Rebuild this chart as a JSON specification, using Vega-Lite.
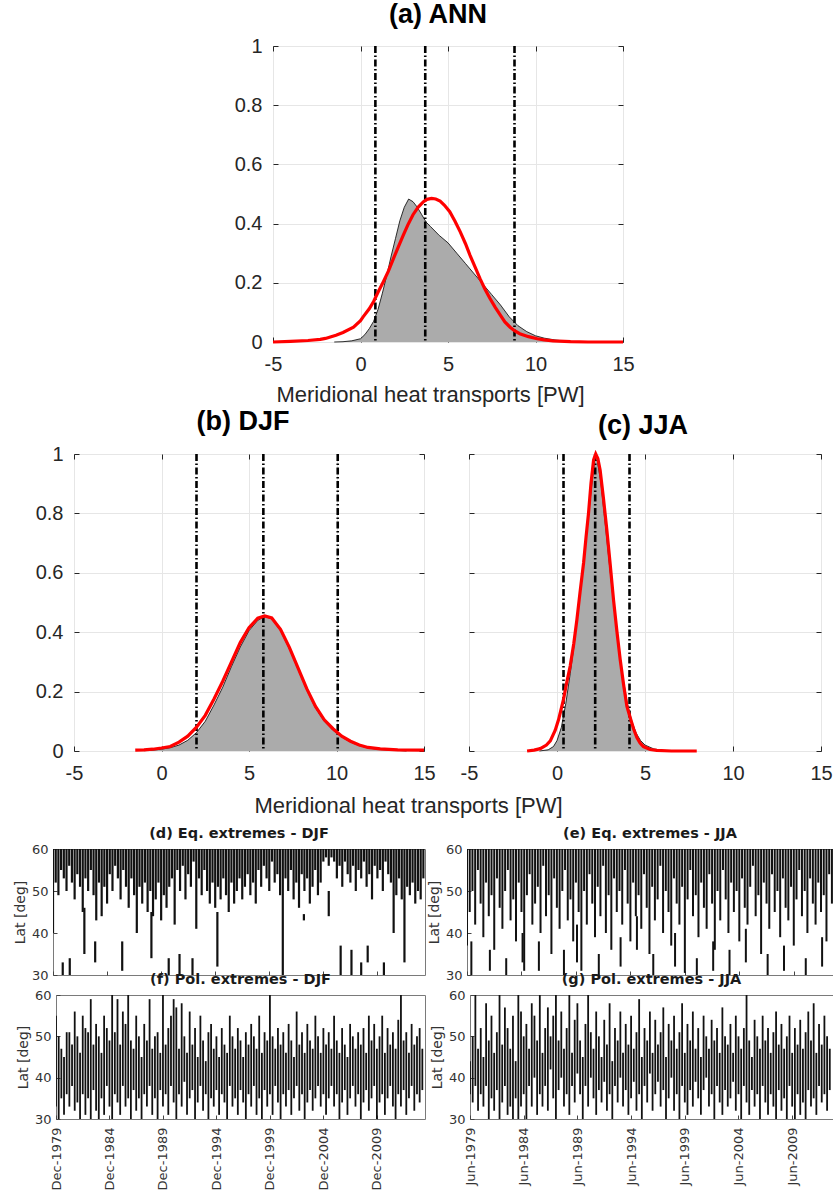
{
"$schema": "https://vega.github.io/schema/vega-lite/v6.json",
"background": "white",
"padding": 0,
"config": {"view": {"stroke": null}, "font": "Liberation Sans"},
"datasets": {
"ag": [{"x":-1.5,"y":0},{"x":-1,"y":0.001},{"x":-0.5,"y":0.004},{"x":0,"y":0.011},{"x":0.25,"y":0.025},{"x":0.5,"y":0.045},{"x":0.75,"y":0.07},{"x":1,"y":0.11},{"x":1.25,"y":0.165},{"x":1.5,"y":0.225},{"x":1.75,"y":0.29},{"x":2,"y":0.35},{"x":2.25,"y":0.41},{"x":2.5,"y":0.455},{"x":2.75,"y":0.483},{"x":3,"y":0.474},{"x":3.25,"y":0.455},{"x":3.5,"y":0.43},{"x":3.75,"y":0.405},{"x":4,"y":0.39},{"x":4.5,"y":0.36},{"x":5,"y":0.335},{"x":5.5,"y":0.3},{"x":6,"y":0.265},{"x":6.5,"y":0.23},{"x":7,"y":0.195},{"x":7.5,"y":0.16},{"x":8,"y":0.125},{"x":8.5,"y":0.085},{"x":9,"y":0.055},{"x":9.5,"y":0.035},{"x":10,"y":0.021},{"x":10.5,"y":0.013},{"x":11,"y":0.008},{"x":11.5,"y":0.004},{"x":12,"y":0.002},{"x":13,"y":0}],
"ar": [{"x":-5,"y":0},{"x":-4,"y":0.002},{"x":-3,"y":0.005},{"x":-2.3,"y":0.009},{"x":-2,"y":0.012},{"x":-1.4,"y":0.023},{"x":-1,"y":0.032},{"x":-0.4,"y":0.05},{"x":0,"y":0.072},{"x":0.15,"y":0.085},{"x":0.5,"y":0.112},{"x":0.75,"y":0.137},{"x":1,"y":0.168},{"x":1.3,"y":0.203},{"x":1.6,"y":0.24},{"x":1.87,"y":0.28},{"x":2.15,"y":0.32},{"x":2.44,"y":0.36},{"x":2.7,"y":0.395},{"x":3,"y":0.43},{"x":3.3,"y":0.456},{"x":3.6,"y":0.474},{"x":3.8,"y":0.482},{"x":4.06,"y":0.485},{"x":4.3,"y":0.483},{"x":4.55,"y":0.476},{"x":4.8,"y":0.462},{"x":5.1,"y":0.44},{"x":5.4,"y":0.408},{"x":5.7,"y":0.372},{"x":6,"y":0.332},{"x":6.26,"y":0.293},{"x":6.55,"y":0.253},{"x":6.83,"y":0.214},{"x":7.1,"y":0.18},{"x":7.4,"y":0.147},{"x":7.7,"y":0.117},{"x":8,"y":0.09},{"x":8.25,"y":0.068},{"x":8.55,"y":0.05},{"x":8.8,"y":0.038},{"x":9.1,"y":0.028},{"x":9.6,"y":0.018},{"x":10.1,"y":0.011},{"x":10.5,"y":0.007},{"x":11,"y":0.004},{"x":12,"y":0.001},{"x":13,"y":0},{"x":15,"y":0}],
"al": [{"x":0.85},{"x":3.7},{"x":8.8}],
"bg": [{"x":-1,"y":0.001},{"x":-0.5,"y":0.003},{"x":0,"y":0.006},{"x":0.5,"y":0.011},{"x":1,"y":0.02},{"x":1.5,"y":0.036},{"x":2,"y":0.062},{"x":2.5,"y":0.1},{"x":3,"y":0.155},{"x":3.5,"y":0.215},{"x":4,"y":0.285},{"x":4.5,"y":0.35},{"x":5,"y":0.405},{"x":5.5,"y":0.44},{"x":5.9,"y":0.453},{"x":6.3,"y":0.445},{"x":6.8,"y":0.405},{"x":7.3,"y":0.345},{"x":7.8,"y":0.275},{"x":8.3,"y":0.205},{"x":8.8,"y":0.145},{"x":9.3,"y":0.1},{"x":9.8,"y":0.07},{"x":10.3,"y":0.047},{"x":10.8,"y":0.03},{"x":11.3,"y":0.018},{"x":11.8,"y":0.01},{"x":12.5,"y":0.005},{"x":13.5,"y":0.002},{"x":14,"y":0}],
"br": [{"x":-1.5,"y":0.003},{"x":-1,"y":0.004},{"x":-0.5,"y":0.006},{"x":0,"y":0.01},{"x":0.5,"y":0.015},{"x":1,"y":0.03},{"x":1.5,"y":0.05},{"x":2,"y":0.08},{"x":2.5,"y":0.12},{"x":3,"y":0.175},{"x":3.5,"y":0.235},{"x":4,"y":0.3},{"x":4.5,"y":0.365},{"x":5,"y":0.415},{"x":5.5,"y":0.447},{"x":5.9,"y":0.455},{"x":6.3,"y":0.448},{"x":6.8,"y":0.41},{"x":7.3,"y":0.35},{"x":7.8,"y":0.28},{"x":8.3,"y":0.21},{"x":8.8,"y":0.15},{"x":9.3,"y":0.105},{"x":9.8,"y":0.075},{"x":10.3,"y":0.05},{"x":10.8,"y":0.033},{"x":11.3,"y":0.02},{"x":11.8,"y":0.012},{"x":12.5,"y":0.007},{"x":13.5,"y":0.004},{"x":15,"y":0.003}],
"bl": [{"x":2.0},{"x":5.82},{"x":10.07}],
"cg": [{"x":-1,"y":0},{"x":-0.5,"y":0.004},{"x":-0.2,"y":0.015},{"x":0,"y":0.035},{"x":0.25,"y":0.08},{"x":0.5,"y":0.16},{"x":0.75,"y":0.26},{"x":1,"y":0.37},{"x":1.25,"y":0.5},{"x":1.5,"y":0.63},{"x":1.75,"y":0.77},{"x":2,"y":0.91},{"x":2.15,"y":0.985},{"x":2.3,"y":0.975},{"x":2.5,"y":0.9},{"x":2.75,"y":0.76},{"x":3,"y":0.615},{"x":3.25,"y":0.48},{"x":3.5,"y":0.355},{"x":3.75,"y":0.245},{"x":4,"y":0.16},{"x":4.25,"y":0.1},{"x":4.5,"y":0.06},{"x":4.75,"y":0.035},{"x":5,"y":0.02},{"x":5.5,"y":0.007},{"x":6,"y":0.002},{"x":6.5,"y":0}],
"cr": [{"x":-1.7,"y":0},{"x":-1.3,"y":0.003},{"x":-0.95,"y":0.008},{"x":-0.6,"y":0.02},{"x":-0.38,"y":0.034},{"x":-0.1,"y":0.07},{"x":0.09,"y":0.106},{"x":0.37,"y":0.174},{"x":0.55,"y":0.23},{"x":0.75,"y":0.286},{"x":0.95,"y":0.36},{"x":1.13,"y":0.442},{"x":1.32,"y":0.54},{"x":1.51,"y":0.633},{"x":1.65,"y":0.72},{"x":1.79,"y":0.8},{"x":1.93,"y":0.9},{"x":2.08,"y":0.98},{"x":2.2,"y":1.0},{"x":2.32,"y":0.985},{"x":2.45,"y":0.946},{"x":2.64,"y":0.85},{"x":2.83,"y":0.745},{"x":3.02,"y":0.63},{"x":3.21,"y":0.51},{"x":3.4,"y":0.405},{"x":3.59,"y":0.308},{"x":3.78,"y":0.225},{"x":3.97,"y":0.151},{"x":4.16,"y":0.112},{"x":4.35,"y":0.075},{"x":4.54,"y":0.045},{"x":4.72,"y":0.027},{"x":4.91,"y":0.015},{"x":5.3,"y":0.005},{"x":5.67,"y":0.002},{"x":6.5,"y":0},{"x":7.94,"y":0}],
"cl": [{"x":0.37},{"x":2.17},{"x":4.12}],
"d": [{"t":0,"a":40,"b":60},{"t":0.25,"a":52,"b":60},{"t":0.5,"a":49,"b":60},{"t":0.75,"a":55,"b":60},{"t":1,"a":53,"b":60},{"t":1.25,"a":50,"b":60},{"t":1.5,"a":56,"b":60},{"t":1.75,"a":52,"b":60},{"t":2,"a":48,"b":60},{"t":2.25,"a":54,"b":60},{"t":2.5,"a":51,"b":60},{"t":2.75,"a":45,"b":60},{"t":3,"a":53,"b":60},{"t":3.25,"a":50,"b":60},{"t":3.5,"a":55,"b":60},{"t":3.75,"a":49,"b":60},{"t":4,"a":43,"b":60},{"t":4.25,"a":52,"b":60},{"t":4.5,"a":44,"b":60},{"t":4.75,"a":51,"b":60},{"t":5,"a":47,"b":60},{"t":5.25,"a":54,"b":60},{"t":5.5,"a":50,"b":60},{"t":5.75,"a":56,"b":60},{"t":6,"a":53,"b":60},{"t":6.25,"a":48,"b":60},{"t":6.5,"a":55,"b":60},{"t":6.75,"a":51,"b":60},{"t":7,"a":46,"b":60},{"t":7.25,"a":53,"b":60},{"t":7.5,"a":49,"b":60},{"t":7.75,"a":40,"b":60},{"t":8,"a":51,"b":60},{"t":8.25,"a":47,"b":60},{"t":8.5,"a":52,"b":60},{"t":8.75,"a":45,"b":60},{"t":9,"a":50,"b":60},{"t":9.25,"a":44,"b":60},{"t":9.5,"a":48,"b":60},{"t":9.75,"a":52,"b":60},{"t":10,"a":43,"b":60},{"t":10.25,"a":49,"b":60},{"t":10.5,"a":46,"b":60},{"t":10.75,"a":51,"b":60},{"t":11,"a":53,"b":60},{"t":11.25,"a":42,"b":60},{"t":11.5,"a":55,"b":60},{"t":11.75,"a":50,"b":60},{"t":12,"a":56,"b":60},{"t":12.25,"a":48,"b":60},{"t":12.5,"a":54,"b":60},{"t":12.75,"a":51,"b":60},{"t":13,"a":57,"b":60},{"t":13.25,"a":41,"b":60},{"t":13.5,"a":53,"b":60},{"t":13.75,"a":49,"b":60},{"t":14,"a":55,"b":60},{"t":14.25,"a":50,"b":60},{"t":14.5,"a":47,"b":60},{"t":14.75,"a":52,"b":60},{"t":15,"a":46,"b":60},{"t":15.25,"a":51,"b":60},{"t":15.5,"a":48,"b":60},{"t":15.75,"a":53,"b":60},{"t":16,"a":49,"b":60},{"t":16.25,"a":45,"b":60},{"t":16.5,"a":52,"b":60},{"t":16.75,"a":47,"b":60},{"t":17,"a":50,"b":60},{"t":17.25,"a":53,"b":60},{"t":17.5,"a":48,"b":60},{"t":17.75,"a":51,"b":60},{"t":18,"a":54,"b":60},{"t":18.25,"a":49,"b":60},{"t":18.5,"a":52,"b":60},{"t":18.75,"a":47,"b":60},{"t":19,"a":55,"b":60},{"t":19.25,"a":51,"b":60},{"t":19.5,"a":56,"b":60},{"t":19.75,"a":53,"b":60},{"t":20,"a":50,"b":60},{"t":20.25,"a":57,"b":60},{"t":20.5,"a":52,"b":60},{"t":20.75,"a":54,"b":60},{"t":21,"a":49,"b":60},{"t":21.25,"a":30,"b":60},{"t":21.5,"a":53,"b":60},{"t":21.75,"a":50,"b":60},{"t":22,"a":55,"b":60},{"t":22.25,"a":48,"b":60},{"t":22.5,"a":52,"b":60},{"t":22.75,"a":46,"b":60},{"t":23,"a":54,"b":60},{"t":23.25,"a":50,"b":60},{"t":23.5,"a":53,"b":60},{"t":23.75,"a":47,"b":60},{"t":24,"a":51,"b":60},{"t":24.25,"a":55,"b":60},{"t":24.5,"a":49,"b":60},{"t":24.75,"a":52,"b":60},{"t":25,"a":57,"b":60},{"t":25.25,"a":58,"b":60},{"t":25.5,"a":56,"b":60},{"t":25.75,"a":58,"b":60},{"t":26,"a":57,"b":60},{"t":26.25,"a":53,"b":60},{"t":26.5,"a":56,"b":60},{"t":26.75,"a":51,"b":60},{"t":27,"a":57,"b":60},{"t":27.25,"a":54,"b":60},{"t":27.5,"a":52,"b":60},{"t":27.75,"a":56,"b":60},{"t":28,"a":50,"b":60},{"t":28.25,"a":55,"b":60},{"t":28.5,"a":53,"b":60},{"t":28.75,"a":57,"b":60},{"t":29,"a":51,"b":60},{"t":29.25,"a":54,"b":60},{"t":29.5,"a":48,"b":60},{"t":29.75,"a":56,"b":60},{"t":30,"a":53,"b":60},{"t":30.25,"a":55,"b":60},{"t":30.5,"a":50,"b":60},{"t":30.75,"a":57,"b":60},{"t":31,"a":54,"b":60},{"t":31.25,"a":52,"b":60},{"t":31.5,"a":40,"b":60},{"t":31.75,"a":49,"b":60},{"t":32,"a":53,"b":60},{"t":32.25,"a":48,"b":60},{"t":32.5,"a":33,"b":60},{"t":32.75,"a":51,"b":60},{"t":33,"a":49,"b":60},{"t":33.25,"a":52,"b":60},{"t":33.5,"a":47,"b":60},{"t":33.75,"a":50,"b":60},{"t":34,"a":48,"b":60},{"t":34.25,"a":53,"b":60},{"t":0.9,"a":30,"b":33},{"t":1.55,"a":30,"b":34},{"t":2.9,"a":35,"b":46},{"t":3.9,"a":33,"b":38},{"t":6.4,"a":31,"b":38},{"t":9.1,"a":34,"b":45},{"t":10.7,"a":30,"b":34},{"t":11.7,"a":30,"b":35},{"t":12.9,"a":30,"b":34},{"t":15.2,"a":32,"b":45},{"t":23.2,"a":43,"b":44.5},{"t":25.5,"a":44,"b":50},{"t":26.6,"a":30,"b":37},{"t":27.6,"a":30,"b":36},{"t":28.5,"a":30,"b":33},{"t":29.1,"a":33,"b":37},{"t":30.6,"a":30,"b":33}],
"e": [{"t":0,"a":37,"b":60},{"t":0.25,"a":45,"b":60},{"t":0.5,"a":50,"b":60},{"t":0.75,"a":42,"b":60},{"t":1,"a":55,"b":60},{"t":1.25,"a":47,"b":60},{"t":1.5,"a":39,"b":60},{"t":1.75,"a":52,"b":60},{"t":2,"a":44,"b":60},{"t":2.25,"a":49,"b":60},{"t":2.5,"a":36,"b":60},{"t":2.75,"a":53,"b":60},{"t":3,"a":46,"b":60},{"t":3.25,"a":41,"b":60},{"t":3.5,"a":50,"b":60},{"t":3.75,"a":55,"b":60},{"t":4,"a":43,"b":60},{"t":4.25,"a":48,"b":60},{"t":4.5,"a":38,"b":60},{"t":4.75,"a":52,"b":60},{"t":5,"a":45,"b":60},{"t":5.25,"a":31,"b":60},{"t":5.5,"a":49,"b":60},{"t":5.75,"a":54,"b":60},{"t":6,"a":42,"b":60},{"t":6.25,"a":47,"b":60},{"t":6.5,"a":51,"b":60},{"t":6.75,"a":40,"b":60},{"t":7,"a":56,"b":60},{"t":7.25,"a":44,"b":60},{"t":7.5,"a":49,"b":60},{"t":7.75,"a":35,"b":60},{"t":8,"a":53,"b":60},{"t":8.25,"a":46,"b":60},{"t":8.5,"a":41,"b":60},{"t":8.75,"a":50,"b":60},{"t":9,"a":55,"b":60},{"t":9.25,"a":43,"b":60},{"t":9.5,"a":48,"b":60},{"t":9.75,"a":38,"b":60},{"t":10,"a":52,"b":60},{"t":10.25,"a":45,"b":60},{"t":10.5,"a":31,"b":60},{"t":10.75,"a":50,"b":60},{"t":11,"a":42,"b":60},{"t":11.25,"a":54,"b":60},{"t":11.5,"a":47,"b":60},{"t":11.75,"a":39,"b":60},{"t":12,"a":51,"b":60},{"t":12.25,"a":44,"b":60},{"t":12.5,"a":56,"b":60},{"t":12.75,"a":40,"b":60},{"t":13,"a":49,"b":60},{"t":13.25,"a":36,"b":60},{"t":13.5,"a":53,"b":60},{"t":13.75,"a":45,"b":60},{"t":14,"a":50,"b":60},{"t":14.25,"a":42,"b":60},{"t":14.5,"a":55,"b":60},{"t":14.75,"a":47,"b":60},{"t":15,"a":38,"b":60},{"t":15.25,"a":52,"b":60},{"t":15.5,"a":44,"b":60},{"t":15.75,"a":49,"b":60},{"t":16,"a":41,"b":60},{"t":16.25,"a":54,"b":60},{"t":16.5,"a":46,"b":60},{"t":16.75,"a":35,"b":60},{"t":17,"a":51,"b":60},{"t":17.25,"a":43,"b":60},{"t":17.5,"a":48,"b":60},{"t":17.75,"a":56,"b":60},{"t":18,"a":40,"b":60},{"t":18.25,"a":50,"b":60},{"t":18.5,"a":45,"b":60},{"t":18.75,"a":37,"b":60},{"t":19,"a":53,"b":60},{"t":19.25,"a":47,"b":60},{"t":19.5,"a":42,"b":60},{"t":19.75,"a":51,"b":60},{"t":20,"a":30.5,"b":60},{"t":20.25,"a":48,"b":60},{"t":20.5,"a":55,"b":60},{"t":20.75,"a":44,"b":60},{"t":21,"a":49,"b":60},{"t":21.25,"a":39,"b":60},{"t":21.5,"a":52,"b":60},{"t":21.75,"a":46,"b":60},{"t":22,"a":41,"b":60},{"t":22.25,"a":54,"b":60},{"t":22.5,"a":47,"b":60},{"t":22.75,"a":36,"b":60},{"t":23,"a":50,"b":60},{"t":23.25,"a":43,"b":60},{"t":23.5,"a":55,"b":60},{"t":23.75,"a":48,"b":60},{"t":24,"a":40,"b":60},{"t":24.25,"a":52,"b":60},{"t":24.5,"a":45,"b":60},{"t":24.75,"a":50,"b":60},{"t":25,"a":38,"b":60},{"t":25.25,"a":53,"b":60},{"t":25.5,"a":46,"b":60},{"t":25.75,"a":42,"b":60},{"t":26,"a":51,"b":60},{"t":26.25,"a":56,"b":60},{"t":26.5,"a":44,"b":60},{"t":26.75,"a":49,"b":60},{"t":27,"a":35,"b":60},{"t":27.25,"a":52,"b":60},{"t":27.5,"a":47,"b":60},{"t":27.75,"a":41,"b":60},{"t":28,"a":54,"b":60},{"t":28.25,"a":45,"b":60},{"t":28.5,"a":50,"b":60},{"t":28.75,"a":39,"b":60},{"t":29,"a":53,"b":60},{"t":29.25,"a":46,"b":60},{"t":29.5,"a":43,"b":60},{"t":29.75,"a":51,"b":60},{"t":30,"a":37,"b":60},{"t":30.25,"a":48,"b":60},{"t":30.5,"a":55,"b":60},{"t":30.75,"a":44,"b":60},{"t":31,"a":50,"b":60},{"t":31.25,"a":40,"b":60},{"t":31.5,"a":53,"b":60},{"t":31.75,"a":47,"b":60},{"t":32,"a":42,"b":60},{"t":32.25,"a":52,"b":60},{"t":32.5,"a":45,"b":60},{"t":32.75,"a":49,"b":60},{"t":33,"a":38,"b":60},{"t":33.25,"a":54,"b":60},{"t":33.5,"a":47,"b":60},{"t":0.4,"a":30,"b":38},{"t":2.1,"a":31,"b":36},{"t":3.6,"a":30,"b":34},{"t":5.1,"a":33,"b":40},{"t":6.6,"a":31,"b":38},{"t":8.9,"a":30,"b":36},{"t":10.1,"a":33,"b":42},{"t":12.1,"a":30,"b":35},{"t":14.1,"a":32,"b":39},{"t":15.6,"a":36,"b":44},{"t":17.1,"a":30,"b":35},{"t":19.1,"a":32,"b":40},{"t":21.1,"a":30,"b":34},{"t":22.6,"a":31,"b":38},{"t":24.1,"a":30,"b":36},{"t":25.6,"a":33,"b":41},{"t":27.6,"a":30,"b":35},{"t":29.1,"a":31,"b":37},{"t":31.1,"a":30,"b":34},{"t":32.6,"a":32,"b":39}],
"f": [{"t":0,"a":33,"b":55},{"t":0.25,"a":30,"b":50},{"t":0.5,"a":35,"b":47},{"t":0.75,"a":31,"b":45},{"t":1,"a":36,"b":51},{"t":1.25,"a":33,"b":51},{"t":1.5,"a":38,"b":48},{"t":1.75,"a":32,"b":56},{"t":2,"a":34,"b":50},{"t":2.25,"a":30,"b":46},{"t":2.5,"a":36,"b":55},{"t":2.75,"a":31,"b":52},{"t":3,"a":35,"b":51},{"t":3.25,"a":30,"b":59},{"t":3.5,"a":37,"b":48},{"t":3.75,"a":32,"b":53},{"t":4,"a":30,"b":50},{"t":4.25,"a":35,"b":46},{"t":4.5,"a":31,"b":55},{"t":4.75,"a":38,"b":52},{"t":5,"a":33,"b":49},{"t":5.25,"a":30,"b":60},{"t":5.5,"a":36,"b":51},{"t":5.75,"a":34,"b":59},{"t":6,"a":31,"b":48},{"t":6.25,"a":38,"b":56},{"t":6.5,"a":33,"b":53},{"t":6.75,"a":35,"b":60},{"t":7,"a":30,"b":49},{"t":7.25,"a":37,"b":47},{"t":7.5,"a":32,"b":55},{"t":7.75,"a":35,"b":50},{"t":8,"a":30,"b":45},{"t":8.25,"a":36,"b":53},{"t":8.5,"a":33,"b":49},{"t":8.75,"a":38,"b":59},{"t":9,"a":31,"b":47},{"t":9.25,"a":35,"b":50},{"t":9.5,"a":30,"b":51},{"t":9.75,"a":37,"b":46},{"t":10,"a":33,"b":60},{"t":10.25,"a":36,"b":48},{"t":10.5,"a":31,"b":52},{"t":10.75,"a":38,"b":55},{"t":11,"a":34,"b":59},{"t":11.25,"a":30,"b":57},{"t":11.5,"a":36,"b":47},{"t":11.75,"a":33,"b":58},{"t":12,"a":39,"b":50},{"t":12.25,"a":31,"b":46},{"t":12.5,"a":35,"b":56},{"t":12.75,"a":37,"b":48},{"t":13,"a":30,"b":52},{"t":13.25,"a":34,"b":45},{"t":13.5,"a":38,"b":55},{"t":13.75,"a":32,"b":49},{"t":14,"a":36,"b":44},{"t":14.25,"a":30,"b":51},{"t":14.5,"a":35,"b":53},{"t":14.75,"a":33,"b":47},{"t":15,"a":37,"b":50},{"t":15.25,"a":31,"b":45},{"t":15.5,"a":36,"b":52},{"t":15.75,"a":34,"b":48},{"t":16,"a":30,"b":46},{"t":16.25,"a":38,"b":55},{"t":16.5,"a":33,"b":50},{"t":16.75,"a":35,"b":47},{"t":17,"a":31,"b":52},{"t":17.25,"a":37,"b":49},{"t":17.5,"a":34,"b":45},{"t":17.75,"a":30,"b":51},{"t":18,"a":36,"b":48},{"t":18.25,"a":33,"b":53},{"t":18.5,"a":38,"b":50},{"t":18.75,"a":31,"b":47},{"t":19,"a":35,"b":55},{"t":19.25,"a":30,"b":46},{"t":19.5,"a":37,"b":51},{"t":19.75,"a":33,"b":49},{"t":20,"a":36,"b":60},{"t":20.25,"a":31,"b":50},{"t":20.5,"a":38,"b":47},{"t":20.75,"a":34,"b":52},{"t":21,"a":30,"b":48},{"t":21.25,"a":36,"b":51},{"t":21.5,"a":33,"b":46},{"t":21.75,"a":37,"b":53},{"t":22,"a":31,"b":49},{"t":22.25,"a":35,"b":45},{"t":22.5,"a":38,"b":56},{"t":22.75,"a":32,"b":48},{"t":23,"a":36,"b":51},{"t":23.25,"a":30,"b":46},{"t":23.5,"a":34,"b":53},{"t":23.75,"a":37,"b":49},{"t":24,"a":32,"b":47},{"t":24.25,"a":35,"b":55},{"t":24.5,"a":38,"b":50},{"t":24.75,"a":33,"b":46},{"t":25,"a":36,"b":52},{"t":25.25,"a":31,"b":48},{"t":25.5,"a":35,"b":51},{"t":25.75,"a":38,"b":47},{"t":26,"a":33,"b":55},{"t":26.25,"a":36,"b":49},{"t":26.5,"a":30,"b":46},{"t":26.75,"a":34,"b":52},{"t":27,"a":37,"b":48},{"t":27.25,"a":31,"b":45},{"t":27.5,"a":35,"b":53},{"t":27.75,"a":38,"b":50},{"t":28,"a":33,"b":47},{"t":28.25,"a":36,"b":51},{"t":28.5,"a":30,"b":48},{"t":28.75,"a":34,"b":52},{"t":29,"a":37,"b":46},{"t":29.25,"a":32,"b":55},{"t":29.5,"a":35,"b":49},{"t":29.75,"a":38,"b":53},{"t":30,"a":30,"b":47},{"t":30.25,"a":34,"b":50},{"t":30.5,"a":36,"b":55},{"t":30.75,"a":31,"b":46},{"t":31,"a":35,"b":52},{"t":31.25,"a":38,"b":48},{"t":31.5,"a":33,"b":51},{"t":31.75,"a":30,"b":47},{"t":32,"a":36,"b":54},{"t":32.25,"a":33,"b":60},{"t":32.5,"a":37,"b":49},{"t":32.75,"a":31,"b":51},{"t":33,"a":35,"b":46},{"t":33.25,"a":38,"b":53},{"t":33.5,"a":32,"b":48},{"t":33.75,"a":36,"b":50},{"t":34,"a":34,"b":52},{"t":34.25,"a":37,"b":47}],
"g": [{"t":0,"a":36,"b":44},{"t":0.25,"a":34,"b":50},{"t":0.5,"a":38,"b":60},{"t":0.75,"a":32,"b":47},{"t":1,"a":36,"b":52},{"t":1.25,"a":33,"b":45},{"t":1.5,"a":38,"b":58},{"t":1.75,"a":30,"b":49},{"t":2,"a":35,"b":55},{"t":2.25,"a":32,"b":46},{"t":2.5,"a":37,"b":51},{"t":2.75,"a":30,"b":60},{"t":3,"a":34,"b":48},{"t":3.25,"a":38,"b":57},{"t":3.5,"a":31,"b":52},{"t":3.75,"a":33,"b":47},{"t":4,"a":30,"b":55},{"t":4.25,"a":35,"b":44},{"t":4.5,"a":30,"b":60},{"t":4.75,"a":33,"b":56},{"t":5,"a":36,"b":50},{"t":5.25,"a":30,"b":53},{"t":5.5,"a":38,"b":47},{"t":5.75,"a":33,"b":58},{"t":6,"a":40,"b":55},{"t":6.25,"a":31,"b":49},{"t":6.5,"a":36,"b":60},{"t":6.75,"a":33,"b":46},{"t":7,"a":38,"b":52},{"t":7.25,"a":32,"b":57},{"t":7.5,"a":42,"b":50},{"t":7.75,"a":35,"b":55},{"t":8,"a":30,"b":60},{"t":8.25,"a":37,"b":49},{"t":8.5,"a":40,"b":56},{"t":8.75,"a":33,"b":47},{"t":9,"a":36,"b":52},{"t":9.25,"a":31,"b":60},{"t":9.5,"a":38,"b":46},{"t":9.75,"a":34,"b":54},{"t":10,"a":41,"b":58},{"t":10.25,"a":36,"b":49},{"t":10.5,"a":30,"b":45},{"t":10.75,"a":38,"b":53},{"t":11,"a":33,"b":60},{"t":11.25,"a":40,"b":51},{"t":11.5,"a":35,"b":47},{"t":11.75,"a":31,"b":56},{"t":12,"a":37,"b":50},{"t":12.25,"a":34,"b":45},{"t":12.5,"a":39,"b":54},{"t":12.75,"a":32,"b":48},{"t":13,"a":36,"b":58},{"t":13.25,"a":30,"b":44},{"t":13.5,"a":38,"b":52},{"t":13.75,"a":34,"b":49},{"t":14,"a":40,"b":56},{"t":14.25,"a":33,"b":46},{"t":14.5,"a":37,"b":53},{"t":14.75,"a":31,"b":48},{"t":15,"a":35,"b":55},{"t":15.25,"a":39,"b":47},{"t":15.5,"a":32,"b":51},{"t":15.75,"a":36,"b":59},{"t":16,"a":30,"b":45},{"t":16.25,"a":38,"b":52},{"t":16.5,"a":34,"b":49},{"t":16.75,"a":41,"b":56},{"t":17,"a":32,"b":46},{"t":17.25,"a":36,"b":54},{"t":17.5,"a":39,"b":48},{"t":17.75,"a":33,"b":51},{"t":18,"a":37,"b":57},{"t":18.25,"a":30,"b":45},{"t":18.5,"a":35,"b":53},{"t":18.75,"a":40,"b":49},{"t":19,"a":32,"b":55},{"t":19.25,"a":36,"b":47},{"t":19.5,"a":30,"b":51},{"t":19.75,"a":38,"b":58},{"t":20,"a":34,"b":46},{"t":20.25,"a":31,"b":53},{"t":20.5,"a":37,"b":49},{"t":20.75,"a":33,"b":56},{"t":21,"a":39,"b":47},{"t":21.25,"a":35,"b":52},{"t":21.5,"a":31,"b":45},{"t":21.75,"a":37,"b":55},{"t":22,"a":40,"b":50},{"t":22.25,"a":33,"b":47},{"t":22.5,"a":36,"b":54},{"t":22.75,"a":30,"b":49},{"t":23,"a":38,"b":52},{"t":23.25,"a":34,"b":46},{"t":23.5,"a":31,"b":57},{"t":23.75,"a":37,"b":50},{"t":24,"a":33,"b":48},{"t":24.25,"a":35,"b":53},{"t":24.5,"a":39,"b":46},{"t":24.75,"a":32,"b":55},{"t":25,"a":36,"b":50},{"t":25.25,"a":30,"b":47},{"t":25.5,"a":38,"b":52},{"t":25.75,"a":34,"b":60},{"t":26,"a":31,"b":49},{"t":26.25,"a":37,"b":45},{"t":26.5,"a":33,"b":54},{"t":26.75,"a":36,"b":50},{"t":27,"a":30,"b":47},{"t":27.25,"a":38,"b":55},{"t":27.5,"a":34,"b":49},{"t":27.75,"a":31,"b":52},{"t":28,"a":36,"b":46},{"t":28.25,"a":33,"b":51},{"t":28.5,"a":30,"b":56},{"t":28.75,"a":37,"b":48},{"t":29,"a":32,"b":53},{"t":29.25,"a":35,"b":47},{"t":29.5,"a":30,"b":50},{"t":29.75,"a":38,"b":55},{"t":30,"a":33,"b":46},{"t":30.25,"a":30,"b":52},{"t":30.5,"a":36,"b":48},{"t":30.75,"a":31,"b":54},{"t":31,"a":34,"b":47},{"t":31.25,"a":30,"b":51},{"t":31.5,"a":37,"b":56},{"t":31.75,"a":33,"b":49},{"t":32,"a":35,"b":58},{"t":32.25,"a":31,"b":46},{"t":32.5,"a":38,"b":53},{"t":32.75,"a":34,"b":48},{"t":33,"a":36,"b":55},{"t":33.25,"a":32,"b":50},{"t":33.5,"a":37,"b":47}]
},
"spacing": 0,
"bounds": "flush",
"vconcat": [
{"width": 1, "height": 44, "data": {"values": []}, "mark": "point"},
{"spacing": 0, "bounds": "flush", "hconcat": [
{"width": 273, "height": 296, "data": {"values": []}, "mark": "point"},
{
 "width": 350, "height": 296,
 "title": {"text": "(a) ANN", "font": "Liberation Sans", "fontSize": 27, "fontWeight": "bold", "color": "#000000", "offset": 7, "dx": -10},
 "view": {"stroke": "#262626", "strokeWidth": 1},
 "resolve": {"axis": {"x": "independent", "y": "independent"}},
 "layer": [
  {"data": {"name": "ag"}, "mark": {"type": "area", "color": "#ababab"},
   "encoding": {
    "x": {"field": "x", "type": "quantitative", "scale": {"domain": [-5, 15], "nice": false}, "axis": {"orient": "bottom", "values": [-5, 0, 5, 10, 15], "labelExpr": "datum.value < 0 ? '-5' : datum.label", "grid": true, "gridColor": "#e6e6e6", "domain": false, "tickSize": -5, "tickColor": "#262626", "labelFlush": false, "labelFont": "Liberation Sans", "labelFontSize": 20, "labelColor": "#262626", "labelPadding": 17, "title": "Meridional heat transports [PW]", "titleFont": "Liberation Sans", "titleFontSize": 22, "titleFontWeight": "normal", "titleColor": "#262626", "titleX": 157, "titleY": 52, "titleAlign": "center", "titleBaseline": "middle"}},
    "y": {"field": "y", "type": "quantitative", "stack": null, "scale": {"domain": [0, 1], "nice": false}, "axis": {"orient": "left", "values": [0, 0.2, 0.4, 0.6, 0.8, 1], "format": "~g", "grid": true, "gridColor": "#e6e6e6", "domain": false, "tickSize": -5, "tickColor": "#262626", "labelFont": "Liberation Sans", "labelFontSize": 20, "labelColor": "#262626", "labelPadding": 16, "title": null}}}},
  {"data": {"name": "ag"}, "mark": {"type": "line", "color": "#000000", "strokeWidth": 0.8},
   "encoding": {"x": {"field": "x", "type": "quantitative", "axis": null}, "y": {"field": "y", "type": "quantitative", "axis": null}}},
  {"data": {"name": "al"}, "mark": {"type": "rule", "color": "#000000", "strokeWidth": 2.6, "strokeDash": [7, 2.5, 1.5, 2.5]},
   "encoding": {"x": {"field": "x", "type": "quantitative", "axis": null}}},
  {"data": {"name": "ar"}, "mark": {"type": "line", "color": "#ff0000", "strokeWidth": 3.2},
   "encoding": {
    "x": {"field": "x", "type": "quantitative", "axis": {"orient": "top", "values": [-5, 0, 5, 10, 15], "grid": false, "domain": false, "labels": false, "tickSize": -5, "tickColor": "#262626", "title": null}},
    "y": {"field": "y", "type": "quantitative", "axis": {"orient": "right", "values": [0, 0.2, 0.4, 0.6, 0.8, 1], "grid": false, "domain": false, "labels": false, "tickSize": -5, "tickColor": "#262626", "title": null}}}}
 ]
}
]},
{"width": 1, "height": 408, "data": {"values": []}, "mark": "point"},
{"spacing": 0, "bounds": "flush", "hconcat": [
{"width": 74, "height": 297, "data": {"values": []}, "mark": "point"},
{
 "width": 350, "height": 297,
 "title": {"text": "(b) DJF", "font": "Liberation Sans", "fontSize": 27, "fontWeight": "bold", "color": "#000000", "offset": 8, "dx": -6},
 "view": {"stroke": "#262626", "strokeWidth": 1},
 "resolve": {"axis": {"x": "independent", "y": "independent"}},
 "layer": [
  {"data": {"name": "bg"}, "mark": {"type": "area", "color": "#ababab"},
   "encoding": {
    "x": {"field": "x", "type": "quantitative", "scale": {"domain": [-5, 15], "nice": false}, "axis": {"orient": "bottom", "values": [-5, 0, 5, 10, 15], "labelExpr": "datum.value < 0 ? '-5' : datum.label", "grid": true, "gridColor": "#e6e6e6", "domain": false, "tickSize": -5, "tickColor": "#262626", "labelFlush": false, "labelFont": "Liberation Sans", "labelFontSize": 20, "labelColor": "#262626", "labelPadding": 17, "title": "Meridional heat transports [PW]", "titleFont": "Liberation Sans", "titleFontSize": 22, "titleFontWeight": "normal", "titleColor": "#262626", "titleX": 334, "titleY": 54, "titleAlign": "center", "titleBaseline": "middle"}},
    "y": {"field": "y", "type": "quantitative", "stack": null, "scale": {"domain": [0, 1], "nice": false}, "axis": {"orient": "left", "values": [0, 0.2, 0.4, 0.6, 0.8, 1], "format": "~g", "grid": true, "gridColor": "#e6e6e6", "domain": false, "tickSize": -5, "tickColor": "#262626", "labelFont": "Liberation Sans", "labelFontSize": 20, "labelColor": "#262626", "labelPadding": 16, "title": null}}}},
  {"data": {"name": "bg"}, "mark": {"type": "line", "color": "#000000", "strokeWidth": 0.8},
   "encoding": {"x": {"field": "x", "type": "quantitative", "axis": null}, "y": {"field": "y", "type": "quantitative", "axis": null}}},
  {"data": {"name": "bl"}, "mark": {"type": "rule", "color": "#000000", "strokeWidth": 2.6, "strokeDash": [7, 2.5, 1.5, 2.5]},
   "encoding": {"x": {"field": "x", "type": "quantitative", "axis": null}}},
  {"data": {"name": "br"}, "mark": {"type": "line", "color": "#ff0000", "strokeWidth": 3.2},
   "encoding": {
    "x": {"field": "x", "type": "quantitative", "axis": {"orient": "top", "values": [-5, 0, 5, 10, 15], "grid": false, "domain": false, "labels": false, "tickSize": -5, "tickColor": "#262626", "title": null}},
    "y": {"field": "y", "type": "quantitative", "axis": {"orient": "right", "values": [0, 0.2, 0.4, 0.6, 0.8, 1], "grid": false, "domain": false, "labels": false, "tickSize": -5, "tickColor": "#262626", "title": null}}}}
 ]
},
{"width": 45, "height": 297, "data": {"values": []}, "mark": "point"},
{
 "width": 352, "height": 297,
 "title": {"text": "(c) JJA", "font": "Liberation Sans", "fontSize": 27, "fontWeight": "bold", "color": "#000000", "offset": 8, "dx": -2},
 "view": {"stroke": "#262626", "strokeWidth": 1},
 "resolve": {"axis": {"x": "independent", "y": "independent"}},
 "layer": [
  {"data": {"name": "cg"}, "mark": {"type": "area", "color": "#ababab"},
   "encoding": {
    "x": {"field": "x", "type": "quantitative", "scale": {"domain": [-5, 15], "nice": false}, "axis": {"orient": "bottom", "values": [-5, 0, 5, 10, 15], "labelExpr": "datum.value < 0 ? '-5' : datum.label", "grid": true, "gridColor": "#e6e6e6", "domain": false, "tickSize": -5, "tickColor": "#262626", "labelFlush": false, "labelFont": "Liberation Sans", "labelFontSize": 20, "labelColor": "#262626", "labelPadding": 17, "title": null}},
    "y": {"field": "y", "type": "quantitative", "stack": null, "scale": {"domain": [0, 1], "nice": false}, "axis": {"orient": "left", "values": [0, 0.2, 0.4, 0.6, 0.8, 1], "grid": true, "gridColor": "#e6e6e6", "domain": false, "labels": false, "tickSize": -5, "tickColor": "#262626", "title": null}}}},
  {"data": {"name": "cg"}, "mark": {"type": "line", "color": "#000000", "strokeWidth": 0.8},
   "encoding": {"x": {"field": "x", "type": "quantitative", "axis": null}, "y": {"field": "y", "type": "quantitative", "axis": null}}},
  {"data": {"name": "cl"}, "mark": {"type": "rule", "color": "#000000", "strokeWidth": 2.6, "strokeDash": [7, 2.5, 1.5, 2.5]},
   "encoding": {"x": {"field": "x", "type": "quantitative", "axis": null}}},
  {"data": {"name": "cr"}, "mark": {"type": "line", "color": "#ff0000", "strokeWidth": 3.2},
   "encoding": {
    "x": {"field": "x", "type": "quantitative", "axis": {"orient": "top", "values": [-5, 0, 5, 10, 15], "grid": false, "domain": false, "labels": false, "tickSize": -5, "tickColor": "#262626", "title": null}},
    "y": {"field": "y", "type": "quantitative", "axis": {"orient": "right", "values": [0, 0.2, 0.4, 0.6, 0.8, 1], "grid": false, "domain": false, "labels": false, "tickSize": -5, "tickColor": "#262626", "title": null}}}}
 ]
}
]},
{"width": 1, "height": 395, "data": {"values": []}, "mark": "point"},
{"spacing": 0, "bounds": "flush", "hconcat": [
{"width": 53, "height": 126, "data": {"values": []}, "mark": "point"},
{
 "width": 372, "height": 126,
 "title": {"text": "(d) Eq. extremes - DJF", "font": "DejaVu Sans", "fontSize": 14.5, "fontWeight": "bold", "color": "#1a1a1a", "offset": 2},
 "view": {"stroke": "#7a7a7a", "strokeWidth": 1},
 "data": {"name": "d"},
 "mark": {"type": "rule", "color": "#111111", "strokeWidth": 2.2, "clip": true},
 "encoding": {
  "x": {"field": "t", "type": "quantitative", "scale": {"domain": [0, 34.4], "nice": false, "zero": false}, "axis": {"values": [0, 5, 10, 15, 20, 25, 30], "labels": false, "grid": false, "domain": false, "tickSize": -4, "tickColor": "#444444", "title": null}},
  "y": {"field": "a", "type": "quantitative", "scale": {"domain": [30, 60], "nice": false, "zero": false}, "axis": {"values": [30, 40, 50, 60], "grid": false, "domain": false, "tickSize": -4, "tickColor": "#444444", "labelFont": "DejaVu Sans", "labelFontSize": 13, "labelColor": "#333333", "labelPadding": 9, "title": "Lat [deg]", "titleFont": "DejaVu Sans", "titleFontSize": 14, "titleFontWeight": "normal", "titleColor": "#333333", "titlePadding": 4}},
  "y2": {"field": "b"}
 }
},
{"width": 42, "height": 126, "data": {"values": []}, "mark": "point"},
{
 "width": 366, "height": 126,
 "title": {"text": "(e) Eq. extremes - JJA", "font": "DejaVu Sans", "fontSize": 14.5, "fontWeight": "bold", "color": "#1a1a1a", "offset": 2},
 "view": {"stroke": "#7a7a7a", "strokeWidth": 1},
 "data": {"name": "e"},
 "mark": {"type": "rule", "color": "#111111", "strokeWidth": 2.0, "clip": true},
 "encoding": {
  "x": {"field": "t", "type": "quantitative", "scale": {"domain": [0, 33.6], "nice": false, "zero": false}, "axis": {"values": [0, 5, 10, 15, 20, 25, 30], "labels": false, "grid": false, "domain": false, "tickSize": -4, "tickColor": "#444444", "title": null}},
  "y": {"field": "a", "type": "quantitative", "scale": {"domain": [30, 60], "nice": false, "zero": false}, "axis": {"values": [30, 40, 50, 60], "grid": false, "domain": false, "tickSize": -4, "tickColor": "#444444", "labelFont": "DejaVu Sans", "labelFontSize": 13, "labelColor": "#333333", "labelPadding": 9, "title": "Lat [deg]", "titleFont": "DejaVu Sans", "titleFontSize": 14, "titleFontWeight": "normal", "titleColor": "#333333", "titlePadding": 4}},
  "y2": {"field": "b"}
 }
}
]},
{"width": 1, "height": 146, "data": {"values": []}, "mark": "point"},
{"spacing": 0, "bounds": "flush", "hconcat": [
{"width": 56, "height": 124, "data": {"values": []}, "mark": "point"},
{
 "width": 369, "height": 124,
 "title": {"text": "(f) Pol. extremes - DJF", "font": "DejaVu Sans", "fontSize": 14.5, "fontWeight": "bold", "color": "#1a1a1a", "offset": 2},
 "view": {"stroke": "#7a7a7a", "strokeWidth": 1},
 "data": {"name": "f"},
 "mark": {"type": "rule", "color": "#111111", "strokeWidth": 1.8, "clip": true},
 "encoding": {
  "x": {"field": "t", "type": "quantitative", "scale": {"domain": [0, 34.5], "nice": false, "zero": false}, "axis": {"values": [0, 5, 10, 15, 20, 25, 30], "labelExpr": "'Dec-' + (1979 + datum.value)", "labelAngle": 270, "labelFont": "DejaVu Sans", "labelFontSize": 13, "labelColor": "#333333", "labelPadding": 12, "labelFlush": false, "labelOverlap": false, "grid": false, "domain": false, "tickSize": -4, "tickColor": "#444444", "title": null}},
  "y": {"field": "a", "type": "quantitative", "scale": {"domain": [30, 60], "nice": false, "zero": false}, "axis": {"values": [30, 40, 50, 60], "grid": false, "domain": false, "tickSize": -4, "tickColor": "#444444", "labelFont": "DejaVu Sans", "labelFontSize": 13, "labelColor": "#333333", "labelPadding": 9, "title": "Lat [deg]", "titleFont": "DejaVu Sans", "titleFontSize": 14, "titleFontWeight": "normal", "titleColor": "#333333", "titlePadding": 4}},
  "y2": {"field": "b"}
 }
},
{"width": 45, "height": 124, "data": {"values": []}, "mark": "point"},
{
 "width": 363, "height": 124,
 "title": {"text": "(g) Pol. extremes - JJA", "font": "DejaVu Sans", "fontSize": 14.5, "fontWeight": "bold", "color": "#1a1a1a", "offset": 2},
 "view": {"stroke": "#7a7a7a", "strokeWidth": 1},
 "data": {"name": "g"},
 "mark": {"type": "rule", "color": "#111111", "strokeWidth": 1.8, "clip": true},
 "encoding": {
  "x": {"field": "t", "type": "quantitative", "scale": {"domain": [0, 33.8], "nice": false, "zero": false}, "axis": {"values": [0, 5, 10, 15, 20, 25, 30], "labelExpr": "'Jun-' + (1979 + datum.value)", "labelAngle": 270, "labelFont": "DejaVu Sans", "labelFontSize": 13, "labelColor": "#333333", "labelPadding": 12, "labelFlush": false, "labelOverlap": false, "grid": false, "domain": false, "tickSize": -4, "tickColor": "#444444", "title": null}},
  "y": {"field": "a", "type": "quantitative", "scale": {"domain": [30, 60], "nice": false, "zero": false}, "axis": {"values": [30, 40, 50, 60], "grid": false, "domain": false, "tickSize": -4, "tickColor": "#444444", "labelFont": "DejaVu Sans", "labelFontSize": 13, "labelColor": "#333333", "labelPadding": 9, "title": "Lat [deg]", "titleFont": "DejaVu Sans", "titleFontSize": 14, "titleFontWeight": "normal", "titleColor": "#333333", "titlePadding": 4}},
  "y2": {"field": "b"}
 }
}
]},
{"width": 1, "height": 124, "data": {"values": []}, "mark": "point"}
]
}
